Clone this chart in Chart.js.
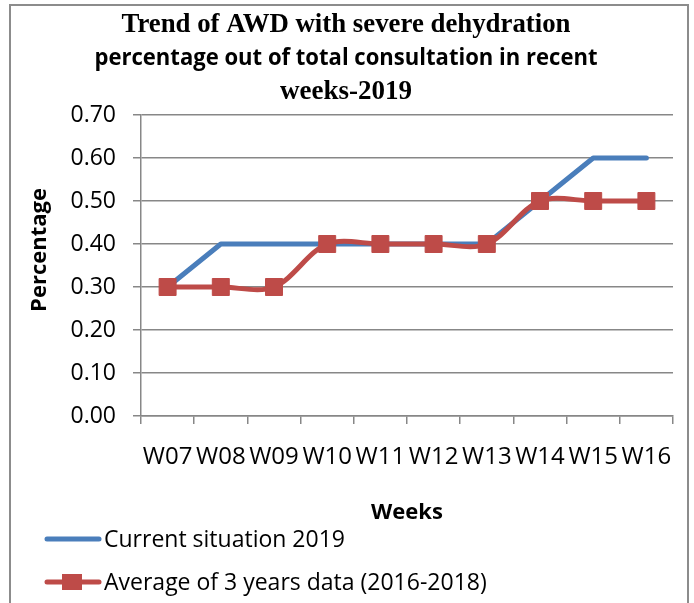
<!DOCTYPE html>
<html>
<head>
<meta charset="utf-8">
<title>Trend of AWD with severe dehydration</title>
<script src="https://cdn.jsdelivr.net/npm/chart.js@4.4.1/dist/chart.umd.min.js"></script>
<style>
  html, body { margin: 0; padding: 0; background: #fff; }
  #wrap { position: relative; width: 694px; height: 603px; }
</style>
</head>
<body>
<div id="wrap"><canvas id="chart" width="694" height="603"></canvas></div>
<script>
// Data
const weeks = ['W07', 'W08', 'W09', 'W10', 'W11', 'W12', 'W13', 'W14', 'W15', 'W16'];
const current2019 = [0.30, 0.40, 0.40, 0.40, 0.40, 0.40, 0.40, 0.50, 0.60, 0.60];
const average3Years = [0.30, 0.30, 0.30, 0.40, 0.40, 0.40, 0.40, 0.50, 0.50, 0.50];
const yMin = 0;
const yMax = 0.7;
const yStep = 0.1;

const titleLines = [
  'Trend of AWD with severe dehydration',
  'percentage out of total consultation in recent',
  'weeks-2019'
];
const seriesNames = ['Current situation 2019', 'Average of 3 years data (2016-2018)'];
const xTitle = 'Weeks';
const yTitle = 'Percentage';

const BLUE = '#4A7EBB';
const RED = '#BE4B48';
const GRID = '#878787';

Chart.defaults.font.family = "'Open Sans', sans-serif";
Chart.defaults.color = '#000';

// ============================================================================
// Plugins: outer frame, three-font title, y title, bottom legend
// ============================================================================

const framePlugin = {
  id: 'frame',
  beforeDraw(chart) {
    const ctx = chart.ctx;
    ctx.save();
    ctx.fillStyle = '#fff';
    ctx.fillRect(0, 0, chart.width, chart.height);
    ctx.strokeStyle = '#8c8c8c';
    ctx.lineWidth = 2;
    ctx.strokeRect(10, 5, 678, 620);
    ctx.restore();
  }
};

const titlePlugin = {
  id: 'mixedTitle',
  afterDraw(chart) {
    const ctx = chart.ctx;
    // the source title mixes a serif bold and a sans bold line
    const fonts = [
      "bold 27px 'Liberation Serif', 'Times New Roman', serif",
      "bold 23px 'Open Sans', sans-serif",
      "bold 27px 'Liberation Serif', 'Times New Roman', serif"
    ];
    const widths = [449, 503, 141];
    const ys = [25, 58, 92];
    ctx.save();
    ctx.fillStyle = '#000';
    ctx.textAlign = 'center';
    ctx.textBaseline = 'middle';
    titleLines.forEach((line, i) => {
      ctx.font = fonts[i];
      ctx.fillText(line, 346, ys[i], widths[i]);
    });

    // y axis title sits a bit above the plot centre in the source
    ctx.translate(40, 250);
    ctx.rotate(-Math.PI / 2);
    ctx.font = "bold 22px 'Open Sans', sans-serif";
    ctx.fillText(yTitle, 0, 0);
    ctx.restore();
  }
};

const legendPlugin = {
  id: 'stackedLegend',
  afterDraw(chart) {
    const ctx = chart.ctx;
    const rows = [539, 582];
    ctx.save();
    chart.data.datasets.forEach((ds, i) => {
      const y = rows[i];
      ctx.strokeStyle = ds.borderColor;
      ctx.lineWidth = ds.borderWidth;
      ctx.lineCap = 'round';
      ctx.beginPath();
      ctx.moveTo(47, y);
      ctx.lineTo(99, y);
      ctx.stroke();
      if (ds.pointRadius > 0) {
        ctx.fillStyle = ds.pointBackgroundColor;
        ctx.fillRect(62, y - 8, 20, 16);
      }
      ctx.fillStyle = '#000';
      ctx.font = "23px 'Open Sans', sans-serif";
      ctx.textAlign = 'left';
      ctx.textBaseline = 'middle';
      ctx.fillText(ds.label, 104, y + 1);
    });
    ctx.restore();
  }
};

// ============================================================================
// Chart
// ============================================================================

const chart = new Chart(document.getElementById('chart'), {
  type: 'line',
  data: {
    labels: weeks,
    datasets: [
      {
        label: seriesNames[0],
        data: current2019,
        borderColor: BLUE,
        backgroundColor: BLUE,
        borderWidth: 5,
        borderCapStyle: 'round',
        borderJoinStyle: 'round',
        tension: 0,
        pointRadius: 0,
        pointHoverRadius: 0,
        pointBackgroundColor: BLUE,
        order: 1
      },
      {
        label: seriesNames[1],
        data: average3Years,
        borderColor: RED,
        backgroundColor: RED,
        borderWidth: 5,
        tension: 0.33,
        pointStyle: 'rect',
        pointRadius: 12,
        pointHoverRadius: 12,
        pointBackgroundColor: RED,
        pointBorderColor: RED,
        pointBorderWidth: 1,
        order: 0
      }
    ]
  },
  options: {
    responsive: false,
    animation: false,
    layout: { padding: { top: 115, right: 21, left: 0, bottom: 0 } },
    plugins: {
      legend: { display: false },
      title: { display: false },
      tooltip: { enabled: false }
    },
    scales: {
      x: {
        offset: true,
        grid: {
          offset: true,
          drawOnChartArea: false,
          drawTicks: true,
          tickLength: 8,
          color: GRID,
          lineWidth: 1.5
        },
        border: { color: GRID, width: 1.5 },
        ticks: {
          autoSkip: false,
          maxRotation: 0,
          minRotation: 0,
          padding: 19,
          font: { size: 24 }
        },
        title: {
          display: true,
          text: xTitle,
          font: { size: 22, weight: 'bold' },
          padding: { top: 0, bottom: 77 }
        },
        afterFit(scale) {
          scale.height = 187;
        }
      },
      y: {
        min: yMin,
        max: yMax,
        grid: {
          color: GRID,
          lineWidth: 1.5,
          tickLength: 8
        },
        border: { color: GRID, width: 1.5 },
        ticks: {
          stepSize: yStep,
          padding: 17,
          font: { size: 23 },
          callback: (value) => Number(value).toFixed(2)
        },
        title: { display: false },
        afterFit(scale) {
          scale.width = 141;
        }
      }
    }
  },
  plugins: [framePlugin, titlePlugin, legendPlugin]
});
</script>
</body>
</html>
